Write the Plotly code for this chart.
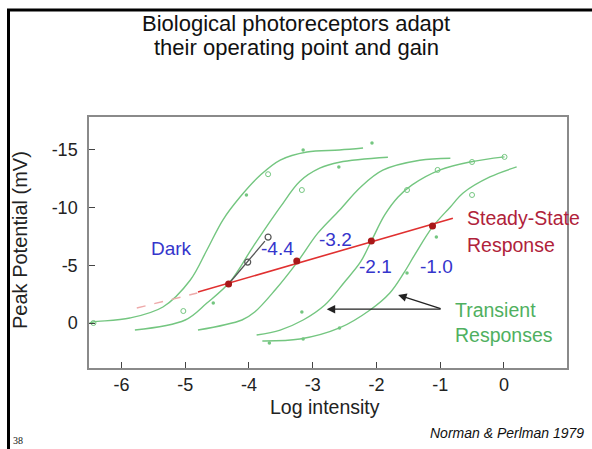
import plotly.graph_objects as go

# ---- data ----
dark_x = [-6.50, -6.44, -5.87, -5.35, -4.92, -4.66, -4.41, -4.14, -3.82, -3.51, -3.09, -2.58, -2.21]
dark_y = [0.0, -0.09, -0.43, -1.39, -3.73, -6.33, -8.93, -10.92, -12.83, -14.13, -14.83, -15.0, -15.17]

c44_x = [-5.79, -5.00, -4.66, -4.30, -3.94, -3.51, -3.20, -2.89, -2.58, -1.82]
c44_y = [0.61, -0.26, -1.73, -3.55, -6.58, -10.04, -12.29, -13.42, -13.94, -14.37]

c32_x = [-4.80, -4.11, -3.91, -3.59, -3.23, -2.92, -2.58, -2.25, -1.90, -1.32, -0.84]
c32_y = [0.61, -0.26, -0.95, -2.86, -5.37, -7.79, -9.78, -11.77, -13.25, -14.11, -14.29]

c21_x = [-3.88, -3.51, -3.15, -2.81, -2.50, -2.25, -2.08, -1.87, -1.66, -1.44, -1.00, -0.53, 0.01]
c21_y = [1.04, 0.61, -0.26, -1.56, -3.56, -5.29, -7.11, -9.37, -10.93, -11.97, -13.27, -13.96, -14.40]

c10_x = [-3.79, -3.20, -2.58, -2.10, -1.79, -1.57, -1.40, -1.12, -0.84, -0.64, -0.22, 0.20]
c10_y = [1.56, 1.39, 0.43, -1.13, -2.60, -4.34, -5.90, -8.33, -10.06, -11.27, -12.66, -13.53]

open_pts_x = [-6.44, -3.70, -5.03, -3.17, -1.52, -1.04, -0.50, 0.01, -0.50]
open_pts_y = [0.0, -12.9, -1.04, -11.53, -11.53, -13.27, -13.96, -14.40, -11.10]
dot_pts_x = [-4.04, -3.15, -2.07, -4.56, -2.59, -3.17, -3.68, -3.15, -2.58, -1.52, -1.06]
dot_pts_y = [-11.09, -15.0, -15.6, -1.73, -13.53, -0.95, 1.73, 1.39, 0.43, -4.33, -7.45]

ss_x = [-4.80, -0.80]
ss_y = [-2.68, -9.09]
ss_dash_x = [-5.76, -4.81]
ss_dash_y = [-1.30, -2.60]
ss_pts_x = [-4.32, -3.25, -2.08, -1.12]
ss_pts_y = [-3.38, -5.37, -7.10, -8.40]

blk_x = [-4.32, -3.75]
blk_y = [-3.38, -7.10]
blk_pts_x = [-4.02, -3.70]
blk_pts_y = [-5.28, -7.45]

adapt_labels = ["Dark", "-4.4", "-3.2", "-2.1", "-1.0"]
adapt_lx = [-5.21, -3.55, -2.65, -2.01, -1.05]
adapt_ly = [-6.5, -6.5, -7.28, -4.86, -4.86]

x_ticks = [-6, -5, -4, -3, -2, -1, 0]
y_ticks = [-15, -10, -5, 0]

arrow_tail = (-0.97, -1.2)
arrow_heads = [(-2.78, -1.2), (-1.66, -2.43)]

GREEN = "#74c680"
FONT = "Liberation Sans, Arial, sans-serif"

fig = go.Figure()
for xs, ys in [(dark_x, dark_y), (c44_x, c44_y), (c32_x, c32_y), (c21_x, c21_y), (c10_x, c10_y)]:
    fig.add_trace(go.Scatter(x=xs, y=ys, mode="lines",
                             line=dict(color=GREEN, width=1.4, shape="spline", smoothing=1.0),
                             hoverinfo="skip"))
fig.add_trace(go.Scatter(x=open_pts_x, y=open_pts_y, mode="markers",
                         marker=dict(symbol="circle-open", size=5, color=GREEN, line=dict(width=1))))
fig.add_trace(go.Scatter(x=dot_pts_x, y=dot_pts_y, mode="markers",
                         marker=dict(symbol="circle", size=3.5, color=GREEN)))
# dark-adapted segment
fig.add_trace(go.Scatter(x=blk_x, y=blk_y, mode="lines", line=dict(color="#555555", width=1.3)))
fig.add_trace(go.Scatter(x=blk_pts_x, y=blk_pts_y, mode="markers",
                         marker=dict(symbol="circle-open", size=6, color="#555555", line=dict(width=1.2))))
# steady state line
fig.add_trace(go.Scatter(x=ss_dash_x, y=ss_dash_y, mode="lines",
                         line=dict(color="#eeaaaa", width=1.4, dash="dash")))
fig.add_trace(go.Scatter(x=ss_x, y=ss_y, mode="lines", line=dict(color="#e03030", width=1.6)))
fig.add_trace(go.Scatter(x=ss_pts_x, y=ss_pts_y, mode="markers",
                         marker=dict(symbol="circle", size=7, color="#a81818")))

for t, x, y in zip(adapt_labels, adapt_lx, adapt_ly):
    fig.add_annotation(x=x, y=y, text=t, showarrow=False,
                       font=dict(family=FONT, size=19, color="#3535cc"))

for hx, hy in arrow_heads:
    fig.add_annotation(x=hx, y=hy, ax=arrow_tail[0], ay=arrow_tail[1],
                       xref="x", yref="y", axref="x", ayref="y", text="",
                       showarrow=True, arrowhead=2, arrowsize=1.3, arrowwidth=1.3,
                       arrowcolor="#222222")

W, H = 592, 449
L, R, T, B = 89, 25, 117, 81
pw, ph = W - L - R, H - T - B


def px2paper(x, y):
    return (x - L) / pw, (H - B - y) / ph


ann = [
    dict(text="Steady-State", x=465, y=218, color="#b0223a", size=19.5, xanchor="left"),
    dict(text="Response", x=465, y=245, color="#b0223a", size=19.5, xanchor="left"),
    dict(text="Transient", x=453, y=310, color="#4fb060", size=19.5, xanchor="left"),
    dict(text="Responses", x=453, y=335, color="#4fb060", size=19.5, xanchor="left"),
    dict(text="Biological photoreceptors adapt", x=296, y=23, color="#111111", size=22, xanchor="center"),
    dict(text="their operating point and gain", x=296, y=47, color="#111111", size=22, xanchor="center"),
    dict(text="Log intensity", x=325, y=407, color="#222222", size=19.5, xanchor="center"),
    dict(text="<i>Norman &amp; Perlman 1979</i>", x=586, y=433, color="#111111", size=14, xanchor="right"),
]
for a in ann:
    px, py = px2paper(a["x"], a["y"])
    fig.add_annotation(x=px, y=py, xref="paper", yref="paper", text=a["text"],
                       showarrow=False, xanchor=a["xanchor"], yanchor="middle",
                       font=dict(family=FONT, size=a["size"], color=a["color"]))

px, py = px2paper(20, 240)
fig.add_annotation(x=px, y=py, xref="paper", yref="paper", text="Peak Potential (mV)",
                   showarrow=False, textangle=-90, xanchor="center", yanchor="middle",
                   font=dict(family=FONT, size=20, color="#222222"))
px, py = px2paper(11, 440)
fig.add_annotation(x=px, y=py, xref="paper", yref="paper", text="38", showarrow=False,
                   xanchor="left", yanchor="middle",
                   font=dict(family="Liberation Serif, serif", size=10, color="#111111"))

# slide border (left and top)
fig.add_shape(type="line", xref="paper", yref="paper",
              x0=(8.5 - L) / pw, x1=(8.5 - L) / pw, y0=(H - B - 9) / ph, y1=(H - B - 449) / ph,
              line=dict(color="black", width=3))
fig.add_shape(type="line", xref="paper", yref="paper",
              x0=(7 - L) / pw, x1=(592 - L) / pw, y0=(H - B - 10) / ph, y1=(H - B - 10) / ph,
              line=dict(color="black", width=3))

axis_common = dict(showgrid=False, zeroline=False, showline=True, mirror=True,
                   linecolor="#8a8a8a", linewidth=1.5, ticks="inside", ticklen=6,
                   tickcolor="#444444", tickwidth=1.2,
                   tickfont=dict(family=FONT, size=18, color="#222222"))

fig.update_layout(
    width=W, height=H, margin=dict(l=L, r=R, t=T, b=B),
    paper_bgcolor="white", plot_bgcolor="white", showlegend=False,
    xaxis=dict(range=[-6.51, 0.99], tickvals=x_ticks, ticktext=[str(v) for v in x_ticks],
               **axis_common),
    yaxis=dict(range=[3.9, -17.86], tickvals=y_ticks, ticktext=[str(v) for v in y_ticks],
               ticklabelstandoff=6, **axis_common),
)

fig.write_html("out.html", config={"displayModeBar": False},
               post_script="document.body.style.margin='0';document.body.style.overflow='hidden';")
